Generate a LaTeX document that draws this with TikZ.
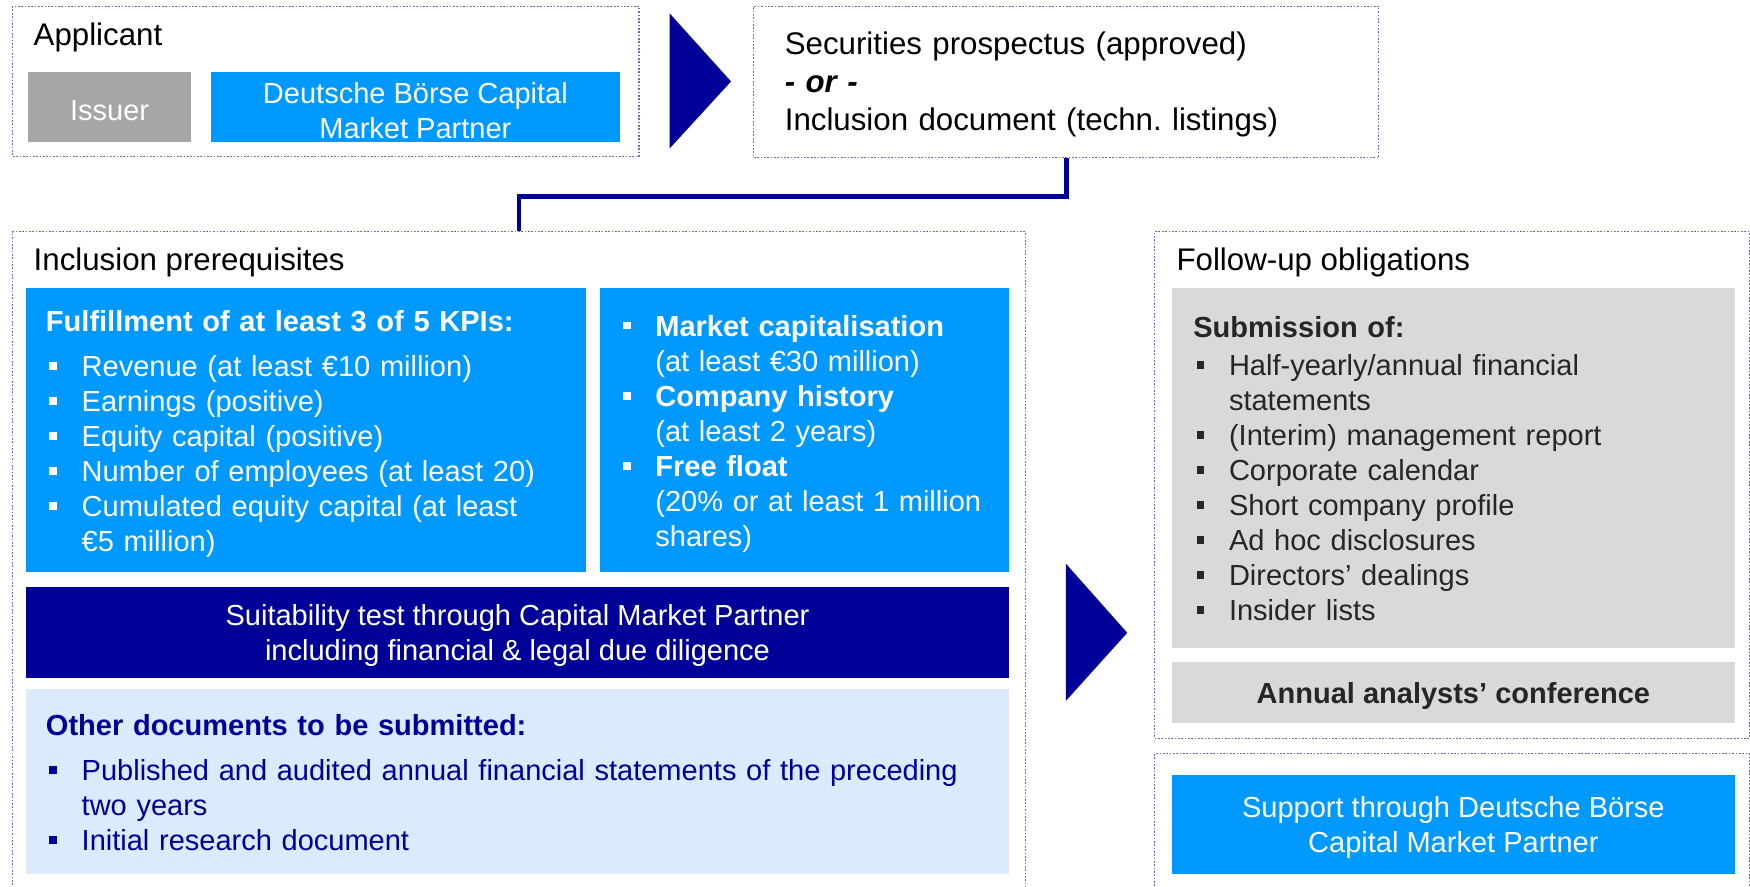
\documentclass[tikz,border=0pt]{standalone}
\usepackage{fontspec}
\setmainfont{Liberation Sans}
\usepackage{tikz}
\frenchspacing
\definecolor{dbblue}{HTML}{0099FF}
\definecolor{dbnavy}{HTML}{000099}
\definecolor{dbgrey}{HTML}{A6A6A6}
\definecolor{dblight}{HTML}{D9D9D9}
\definecolor{dbpale}{HTML}{DBEAFC}
\definecolor{dbdots}{HTML}{6A6ACC}
\definecolor{dbtext}{HTML}{262626}

\newcommand{\sqbul}{\makebox[32pt][l]{\hspace{3pt}\raisebox{6pt}{\rule{7pt}{7pt}}}}
\newcommand{\sqind}{\hspace*{32pt}}
\newcommand{\tstrut}{\rule{0pt}{25pt}}
\newcommand{\bodyfont}{\fontsize{26}{31.4}\selectfont}
\newcommand{\titlefont}{\fontsize{28}{34}\selectfont}

\tikzset{
	frame/.style={rectangle,draw=dbdots,line width=1pt,dash pattern=on 1.5pt off 1.5pt,inner sep=0pt,anchor=north west},
	panel/.style={rectangle,inner sep=0pt,anchor=north west,align=center,font=\bodyfont},
	list/.style={anchor=north west,inner sep=0pt,text width=#1,align=left,font=\bodyfont},
	title/.style={anchor=base west,inner sep=0pt,font=\titlefont},
	link/.style={draw=dbnavy,line width=4pt}
}

\begin{document}
\begin{tikzpicture}[x=1pt,y=-1pt]
	\useasboundingbox (0,0) rectangle (1568,794);
	\clip (0,0) rectangle (1568,794);
	%Applicant
	\node[frame,minimum width=561pt,minimum height=135pt] (applicant) at (11,5) {};
	\node[title] (applicanttitle) at (30,41) {Applicant};
	\node[panel,fill=dbgrey,text=white,minimum width=146pt,minimum height=63pt] (issuer) at (25,64) {\tstrut Issuer};
	\node[panel,fill=dbblue,text=white,minimum width=366pt,minimum height=63pt] (partner) at (189,64) {\tstrut Deutsche Börse Capital\\Market Partner};
	\fill[dbnavy] (600,12) -- (655,73) -- (600,133) -- cycle;
	
	%Prospectus
	\node[frame,minimum width=560pt,minimum height=136pt] (prospectus) at (675,5) {};
	\node[list=520pt,font=\titlefont] (prospectustext) at (703,25) {\strut Securities prospectus (approved)\\\textbf{\textit{- or -}}\\Inclusion document (techn. listings)};
	
	%Inclusion prerequisites
	\node[frame,minimum width=907pt,minimum height=620pt] (prereq) at (11,207) {};
	\node[title] (prereqtitle) at (30,242) {Inclusion prerequisites};
	\node[panel,fill=dbblue,minimum width=502pt,minimum height=254pt] (kpis) at (23,258) {};
	\node[list=480pt,text=white] (kpihead) at (41,275) {\strut\textbf{Fulfillment of at least 3 of 5 KPIs:}};
	\node[list=480pt,text=white] (kpilist) at (41,315) {\strut\sqbul Revenue (at least €10 million)\\
		\sqbul Earnings (positive)\\
		\sqbul Equity capital (positive)\\
		\sqbul Number of employees (at least 20)\\
		\sqbul Cumulated equity capital (at least\\
		\sqind €5 million)};
	\node[panel,fill=dbblue,minimum width=367pt,minimum height=254pt] (market) at (537,258) {};
	\node[list=340pt,text=white] (marketlist) at (555,279) {\strut\sqbul\textbf{Market capitalisation}\\
		\sqind(at least €30 million)\\
		\sqbul\textbf{Company history}\\
		\sqind(at least 2 years)\\
		\sqbul\textbf{Free float}\\
		\sqind(20\% or at least 1 million\\
		\sqind shares)};
	\node[panel,fill=dbnavy,text=white,minimum width=881pt,minimum height=81pt] (suitability) at (23,526) {\tstrut Suitability test through Capital Market Partner\\including financial \& legal due diligence};
	\node[panel,fill=dbpale,minimum width=881pt,minimum height=166pt] (otherdocs) at (23,617) {};
	\node[list=850pt,text=dbnavy] (otherhead) at (41,637) {\strut\textbf{Other documents to be submitted:}};
	\node[list=850pt,text=dbnavy] (otherlist) at (41,677) {\strut\sqbul Published and audited annual financial statements of the preceding\\
		\sqind two years\\
		\sqbul Initial research document};
	\fill[dbnavy] (955,505) -- (1010,567) -- (955,628) -- cycle;
	
	%Follow-up
	\node[frame,minimum width=533pt,minimum height=454pt] (followup) at (1034,207) {};
	\node[title] (followuptitle) at (1054,242) {Follow-up obligations};
	\node[panel,fill=dblight,minimum width=504pt,minimum height=322pt] (submission) at (1050,258) {};
	\node[list=470pt,text=dbtext] (subhead) at (1069,280) {\strut\textbf{Submission of:}};
	\node[list=470pt,text=dbtext] (sublist) at (1069,314) {\strut\sqbul Half-yearly/annual financial\\
		\sqind statements\\
		\sqbul (Interim) management report\\
		\sqbul Corporate calendar\\
		\sqbul Short company profile\\
		\sqbul Ad hoc disclosures\\
		\sqbul Directors’ dealings\\
		\sqbul Insider lists};
	\node[panel,fill=dblight,text=dbtext,font=\bodyfont\bfseries,minimum width=504pt,minimum height=55pt] (conference) at (1050,593) {\tstrut Annual analysts’ conference};
	
	%Support
	\node[frame,minimum width=533pt,minimum height=140pt] (supportframe) at (1034,675) {};
	\node[panel,fill=dbblue,text=white,minimum width=504pt,minimum height=89pt] (support) at (1050,694) {\tstrut Support through Deutsche Börse\\Capital Market Partner};
	
	\draw[link] (prospectus.south) -- ++(0,34) -| (prereq.north);
\end{tikzpicture}
\end{document}
